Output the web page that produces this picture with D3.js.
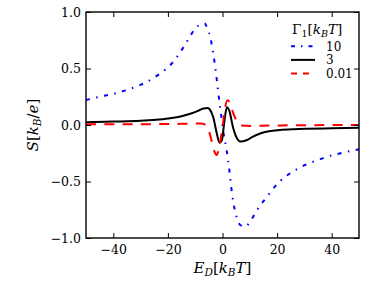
<!DOCTYPE html>
<html>
<head>
<meta charset="utf-8">
<script src="https://cdn.jsdelivr.net/npm/d3@7"></script>
<style>
  body { margin: 0; background: #fff; }
  svg text { font-family: "DejaVu Serif", "Liberation Serif", serif; fill: #000; }
</style>
</head>
<body>
<div id="chart"></div>
<script>
// values
var xTicks = [-40, -20, 0, 20, 40];
var yTicks = [-1, -0.5, 0, 0.5, 1];
var legendLabels = ["10", "3", "0.01"];

// Gamma_1 = 10 (blue dash-dot)
var g10X = [-50, -45, -40, -35, -30, -25, -21, -18, -16, -14, -12, -10, -8, -6.6, -5.5, -4.5, -3.5, -2.5, -1.5, -0.5,
            0.5, 1.5, 2.5, 3.5, 4.5, 5.5, 6.5, 8.3, 10, 12, 14, 16, 18, 21, 24, 27, 31, 35, 38, 42, 46, 50];
var g10Y = [0.22, 0.25, 0.275, 0.31, 0.355, 0.42, 0.49, 0.56, 0.625, 0.70, 0.78, 0.855, 0.89, 0.9, 0.85, 0.78, 0.65, 0.48, 0.28, 0.09,
            -0.09, -0.22, -0.40, -0.61, -0.75, -0.84, -0.885, -0.9, -0.86, -0.78, -0.705, -0.645, -0.58, -0.50, -0.44, -0.395, -0.345, -0.31, -0.283, -0.257, -0.235, -0.215];

// Gamma_1 = 3 (black solid)
var g3X = [-50, -40, -30, -20, -15, -11.8, -9, -7, -5.5, -4.2, -3.3, -2.1, -1.1, -0.2, 0.6, 1.6, 2.6, 3.8, 5.3, 6.5,
           9, 11, 13.8, 17, 21, 26, 31, 40, 50];
var g3Y = [0.025, 0.03, 0.037, 0.058, 0.078, 0.10, 0.125, 0.147, 0.15, 0.12, 0.06, -0.074, -0.156, -0.133, 0.015, 0.157, 0.118, -0.015, -0.118, -0.147,
           -0.133, -0.105, -0.075, -0.055, -0.044, -0.037, -0.033, -0.029, -0.025];

// Gamma_1 = 0.01 (red dashed)
var g001X = [-50, -30, -15, -10, -8, -6.5, -5.1, -4.2, -3.3, -2.1, -1.2, 0, 1.0, 1.8, 2.8, 4.0, 5.0, 5.9, 7, 10, 14, 25, 50];
var g001Y = [0.006, 0.007, 0.01, 0.013, 0.014, 0.005, -0.044, -0.12, -0.21, -0.265, -0.19, -0.02, 0.16, 0.22, 0.19, 0.10, 0.045, 0.015, -0.005, -0.009, -0.006, -0.003, 0];

var W = 374, H = 281;
var margin = {top: 12, right: 15, bottom: 43, left: 86};
var pw = W - margin.left - margin.right;
var ph = H - margin.top - margin.bottom;
var serif = '"DejaVu Serif", "Liberation Serif", serif';

var svg = d3.select("#chart").append("svg")
    .attr("width", W)
    .attr("height", H)
    .attr("font-family", serif);

var g = svg.append("g")
    .attr("transform", "translate(" + margin.left + "," + margin.top + ")");

var x = d3.scaleLinear().domain([-50, 50]).range([0, pw]);
var y = d3.scaleLinear().domain([-1, 1]).range([ph, 0]);

svg.append("defs").append("clipPath").attr("id", "clip")
  .append("rect").attr("width", pw).attr("height", ph);

var series = [
  {xs: g10X, ys: g10Y, color: "#0000ff", dash: "4,6.5,1.5,6.5"},
  {xs: g3X, ys: g3Y, color: "#000000", dash: null},
  {xs: g001X, ys: g001Y, color: "#ff0000", dash: "10,8.3"}
];

var line = d3.line()
    .x(function(d){ return x(d[0]); })
    .y(function(d){ return y(d[1]); })
    .curve(d3.curveMonotoneX);

var lines = g.append("g").attr("clip-path", "url(#clip)");
series.forEach(function(s){
  var pts = s.xs.map(function(v, i){ return [v, s.ys[i]]; });
  lines.append("path")
    .datum(pts)
    .attr("d", line)
    .attr("fill", "none")
    .attr("stroke", s.color)
    .attr("stroke-width", 2)
    .attr("stroke-dasharray", s.dash);
});

// axes, ticks pointing inward on all four sides
var fs = "12.5px";
g.append("g").attr("transform", "translate(0," + ph + ")")
  .call(d3.axisBottom(x).tickValues(xTicks).tickSizeInner(-5).tickSizeOuter(0).tickPadding(7)
        .tickFormat(d3.format("d")));
g.append("g")
  .call(d3.axisLeft(y).tickValues(yTicks).tickSizeInner(-5).tickSizeOuter(0).tickPadding(5)
        .tickFormat(d3.format(".1f")));
g.append("g")
  .call(d3.axisTop(x).tickValues(xTicks).tickSizeInner(-5).tickSizeOuter(0).tickFormat(""));
g.append("g").attr("transform", "translate(" + pw + ",0)")
  .call(d3.axisRight(y).tickValues(yTicks).tickSizeInner(-5).tickSizeOuter(0).tickFormat(""));

g.selectAll(".domain").remove();
g.selectAll("g").attr("font-family", serif);
g.selectAll(".tick line").attr("stroke", "#000").attr("stroke-width", 1);
g.selectAll(".tick text").attr("font-size", fs).style("font-size", fs).style("font-family", serif);

g.append("rect")
  .attr("width", pw).attr("height", ph)
  .attr("fill", "none").attr("stroke", "#000").attr("stroke-width", 1.4);

// x label: E_D[k_B T]
var xl = svg.append("text")
  .attr("x", margin.left + pw / 2).attr("y", 273)
  .attr("text-anchor", "middle")
  .style("font-size", "15px");
xl.append("tspan").style("font-style", "italic").text("E");
xl.append("tspan").attr("dy", 3).style("font-size", "10.5px").style("font-style", "italic").text("D");
xl.append("tspan").attr("dy", -3).text("[");
xl.append("tspan").style("font-style", "italic").text("k");
xl.append("tspan").attr("dy", 3).style("font-size", "10.5px").style("font-style", "italic").text("B");
xl.append("tspan").attr("dy", -3).style("font-style", "italic").text("T");
xl.append("tspan").text("]");

// y label: S[k_B/e]
var yl = svg.append("text")
  .attr("transform", "translate(38," + (margin.top + ph / 2) + ") rotate(-90)")
  .attr("text-anchor", "middle")
  .style("font-size", "15px");
yl.append("tspan").style("font-style", "italic").text("S");
yl.append("tspan").text("[");
yl.append("tspan").style("font-style", "italic").text("k");
yl.append("tspan").attr("dy", 3).style("font-size", "10.5px").style("font-style", "italic").text("B");
yl.append("tspan").attr("dy", -3).text("/");
yl.append("tspan").style("font-style", "italic").text("e");
yl.append("tspan").text("]");

// legend
var lg = svg.append("g");
var lt = lg.append("text").attr("x", 292).attr("y", 34).style("font-size", "13.5px");
lt.append("tspan").text("Γ");
lt.append("tspan").attr("dy", 2.5).style("font-size", "9.5px").text("1");
lt.append("tspan").attr("dy", -2.5).text("[");
lt.append("tspan").style("font-style", "italic").text("k");
lt.append("tspan").attr("dy", 2.5).style("font-size", "9.5px").style("font-style", "italic").text("B");
lt.append("tspan").attr("dy", -2.5).style("font-style", "italic").text("T");
lt.append("tspan").text("]");

legendLabels.forEach(function(lab, i){
  var ly = 46.3 + i * 13.6;
  lg.append("line")
    .attr("x1", 291).attr("x2", 315).attr("y1", ly).attr("y2", ly)
    .attr("stroke", series[i].color).attr("stroke-width", 2)
    .attr("stroke-dasharray", i === 0 ? "4,6,1.5,6" : (i === 2 ? "6,6" : null));
  lg.append("text")
    .attr("x", 326).attr("y", ly + 4.3)
    .style("font-size", "12px")
    .text(lab);
});
</script>
</body>
</html>
